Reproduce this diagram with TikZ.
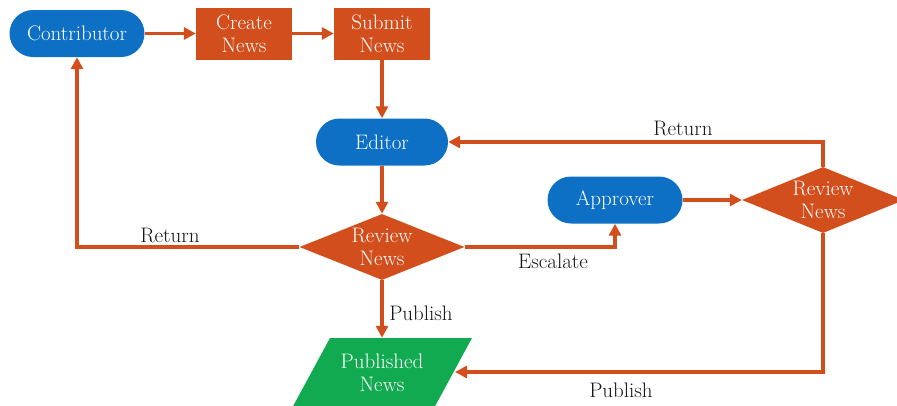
\documentclass[tikz,border=0pt]{standalone}
\usetikzlibrary{shapes.geometric,arrows.meta}
\definecolor{fblue}{RGB}{14,112,196}
\definecolor{forange}{RGB}{210,78,28}
\definecolor{fgreen}{RGB}{18,170,80}
\definecolor{ftext}{RGB}{20,20,20}
\begin{document}
\begin{tikzpicture}[x=1pt,y=-1pt,
  every node/.style={font=\fontsize{21}{22.5}\selectfont},
  rbox/.style={fill=fblue,text=white,rounded corners=23.5pt,minimum width=135pt,minimum height=47pt,inner sep=0pt},
  sbox/.style={fill=forange,text=white,minimum width=96pt,minimum height=52pt,inner sep=0pt,align=center},
  dbox/.style={diamond,fill=forange,minimum width=165pt,minimum height=66pt,inner sep=0pt},
  wtxt/.style={text=white,align=center,inner sep=0pt},
  lbl/.style={text=ftext,inner sep=0pt},
  conn/.style={draw=forange,line width=3.3pt,-{Triangle[length=12pt,width=12pt]}}
]
\useasboundingbox (0,0) rectangle (897,405);
\node[rbox] (contrib) at (77,33.5) {Contributor};
\node[sbox] (create) at (244,33.5) {Create\\News};
\node[sbox] (submit) at (382,33.5) {Submit\\News};
\node[rbox,minimum width=132pt] (editor) at (382,142) {Editor};
\node[dbox] (rev1) at (382,247) {};
\node[wtxt] (rev1t) at (382,247) {Review\\News};
\node[rbox] (approver) at (615,200) {Approver};
\node[dbox,minimum width=162pt] (rev2) at (823,200) {};
\node[wtxt] (rev2t) at (823,200) {Review\\News};
\fill[fgreen] (330,338) -- (472,338) -- (433,410) -- (291,410) -- cycle;
\node[wtxt,minimum height=70pt] (pub) at (382,373) {Published\\News};
\coordinate (pubright) at (455,372);

\draw[conn] (contrib.east) -- (create.west);
\draw[conn] (create.east) -- (submit.west);
\draw[conn] (submit.south) -- (editor.north);
\draw[conn] (editor.south) -- (rev1.north);
\draw[conn] (rev1.west) -| (contrib.south);
\draw[conn] (rev1.east) -| (approver.south);
\draw[conn] (rev1.south) -- (pub.north);
\draw[conn] (approver.east) -- (rev2.west);
\draw[conn] (rev2.north) |- (editor.east);
\draw[conn] (rev2.south) |- (pubright);

\node[lbl] (l1) at (170,235) {Return};
\node[lbl] (l2) at (553,261) {Escalate};
\node[lbl] (l3) at (421,313) {Publish};
\node[lbl] (l4) at (683,128) {Return};
\node[lbl] (l5) at (621,390) {Publish};
\end{tikzpicture}
\end{document}
